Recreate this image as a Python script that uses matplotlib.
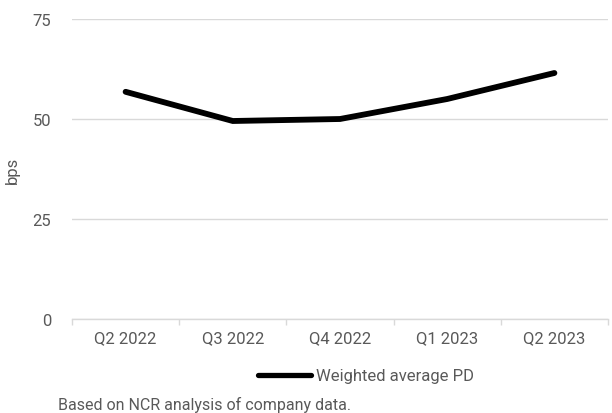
import matplotlib
matplotlib.use("Agg")
import matplotlib.pyplot as plt
from matplotlib.lines import Line2D

plt.rcParams['font.family'] = ['Roboto', 'DejaVu Sans']

categories = ["Q2 2022", "Q3 2022", "Q4 2022", "Q1 2023", "Q2 2023"]
pd_values = [56.8, 49.5, 50.0, 55.0, 61.5]
y_ticks = [0, 25, 50, 75]
series_name = "Weighted average PD"
y_label = "bps"
footnote = "Based on NCR analysis of company data."

W, H = 612, 414
fig = plt.figure(figsize=(W / 100, H / 100), dpi=100)
ax = fig.add_axes([72 / W, 1 - 320 / H, (608 - 72) / W, (320 - 20) / H])

text_color = "#595959"
grid_color = "#d9d9d9"

x = list(range(len(categories)))
ax.plot(x, pd_values, color="black", lw=4.2, solid_capstyle="round",
        solid_joinstyle="miter")

ax.set_xlim(-0.5, len(categories) - 0.5)
ax.set_ylim(0, 75)
ax.set_yticks(y_ticks)
ax.set_yticklabels([str(v) for v in y_ticks])
ax.set_xticks(x)
ax.set_xticklabels(categories)
ax.set_xticks([i - 0.5 for i in range(len(categories) + 1)], minor=True)

for s in ["top", "right", "left"]:
    ax.spines[s].set_visible(False)
ax.spines["bottom"].set_color(grid_color)
ax.spines["bottom"].set_linewidth(1.0)

ax.grid(axis="y", color=grid_color, lw=1.0)
ax.set_axisbelow(True)

ax.tick_params(axis="y", length=0, pad=15, labelsize=12, labelcolor=text_color)
ax.tick_params(axis="x", which="major", length=0, pad=8, labelsize=12,
               labelcolor=text_color)
ax.tick_params(axis="x", which="minor", length=4, width=1.0, color=grid_color)

ax.set_ylabel(y_label, color=text_color, fontsize=12)
ax.yaxis.set_label_coords((20 - 72) / (608 - 72), 0.5)

handle = Line2D([0], [0], color="black", lw=3.8, solid_capstyle="round")
leg = fig.legend([handle], [series_name], loc="center left",
                 bbox_to_anchor=(258 / W, 1 - 377 / H), frameon=False,
                 fontsize=12, handlelength=3.2, handletextpad=0.25,
                 labelcolor=text_color, borderpad=0, borderaxespad=0)

fig.text(58 / W, 1 - 405 / H, footnote, fontsize=11.5, color=text_color,
         va="center", ha="left")

fig.savefig("out.png", dpi=100)
